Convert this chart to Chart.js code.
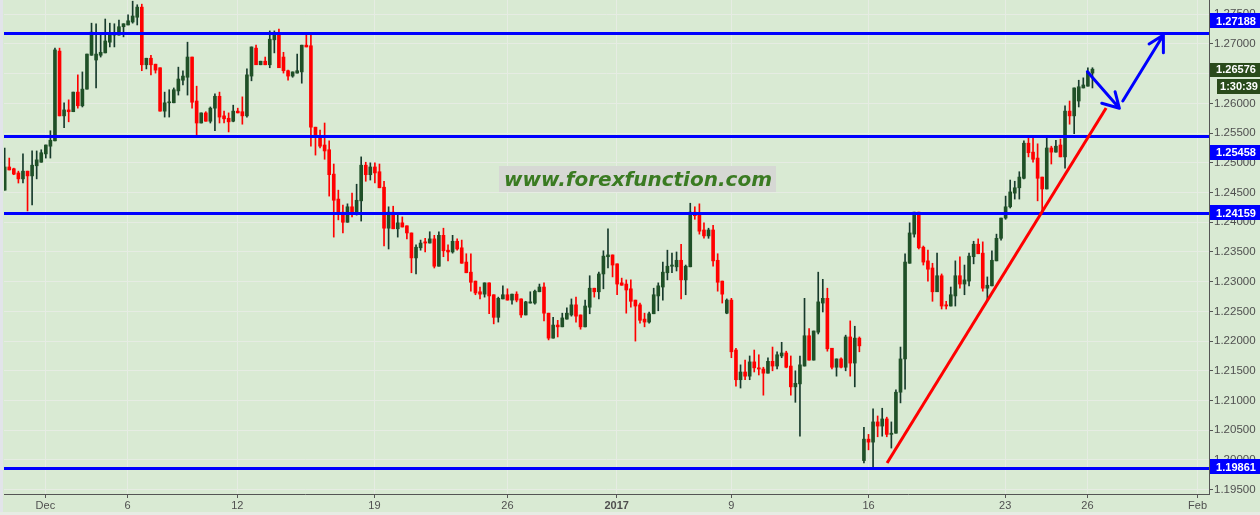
<!DOCTYPE html>
<html><head><meta charset="utf-8">
<script src="https://cdn.jsdelivr.net/npm/chart.js@4.4.1/dist/chart.umd.min.js"></script>
<style>html,body{margin:0;padding:0;background:#d9ead3;overflow:hidden}canvas{display:block}</style>
</head><body><canvas id="c" width="1260" height="515"></canvas>
<script>
// ---- 4H GBPUSD-style candles (price values) ----
const open = [1.2454,1.2493,1.2490,1.2483,1.2473,1.2486,1.2478,1.2495,1.2501,1.2515,
1.2528,1.2537,1.2688,1.2579,1.2589,1.2586,1.2619,1.2596,1.2624,1.2681,
1.2673,1.2681,1.2685,1.2703,1.2715,1.2715,1.2729,1.2732,1.2737,1.2745,
1.2762,1.2665,1.2676,1.2666,1.2660,1.2587,1.2601,1.2601,1.2621,1.2639,
1.2644,1.2678,1.2604,1.2567,1.2584,1.2570,1.2592,1.2612,1.2579,1.2575,
1.2570,1.2587,1.2586,1.2579,1.2646,1.2693,1.2665,1.2671,1.2665,1.2707,
1.2719,1.2678,1.2655,1.2646,1.2651,1.2653,1.2698,1.2697,1.2560,1.2545,
1.2530,1.2522,1.2481,1.2439,1.2417,1.2400,1.2426,1.2416,1.2436,1.2496,
1.2480,1.2493,1.2485,1.2459,1.2390,1.2417,1.2389,1.2399,1.2394,1.2382,
1.2340,1.2357,1.2367,1.2365,1.2372,1.2326,1.2378,1.2353,1.2350,1.2368,
1.2357,1.2333,1.2316,1.2301,1.2283,1.2279,1.2298,1.2278,1.2240,1.2271,
1.2278,1.2269,1.2279,1.2271,1.2244,1.2264,1.2264,1.2283,1.2291,1.2247,
1.2205,1.2227,1.2224,1.2237,1.2244,1.2261,1.2244,1.2224,1.2257,1.2289,
1.2283,1.2313,1.2342,1.2345,1.2330,1.2298,1.2296,1.2288,1.2269,1.2261,
1.2237,1.2232,1.2246,1.2276,1.2291,1.2315,1.2326,1.2325,1.2336,1.2303,
1.2325,1.2417,1.2412,1.2387,1.2377,1.2387,1.2336,1.2301,1.2247,1.2269,
1.2185,1.2135,1.2148,1.2141,1.2165,1.2155,1.2153,1.2146,1.2166,1.2158,
1.2175,1.2180,1.2158,1.2123,1.2128,1.2158,1.2209,1.2168,1.2215,1.2264,
1.2272,1.2188,1.2156,1.2170,1.2156,1.2207,1.2163,1.2205,1.1999,1.2035,
1.2030,1.2064,1.2057,1.2069,1.2043,1.2045,1.2114,1.2170,1.2331,1.2380,
1.2417,1.2358,1.2335,1.2323,1.2283,1.2310,1.2261,1.2259,1.2276,1.2310,
1.2296,1.2301,1.2342,1.2363,1.2348,1.2289,1.2293,1.2335,1.2373,1.2407,
1.2426,1.2449,1.2458,1.2474,1.2533,1.2518,1.2508,1.2476,1.2456,1.2525,
1.2518,1.2530,1.2510,1.2587,1.2579,1.2604,1.2626,1.2629,1.2651];

const high = [1.2525,1.2508,1.2491,1.2486,1.2515,1.2486,1.2520,1.2520,1.2522,1.2530,
1.2554,1.2693,1.2693,1.2601,1.2606,1.2619,1.2648,1.2653,1.2683,1.2735,
1.2734,1.2719,1.2742,1.2735,1.2734,1.2740,1.2734,1.2749,1.2772,1.2766,
1.2767,1.2676,1.2681,1.2666,1.2660,1.2619,1.2623,1.2626,1.2661,1.2655,
1.2703,1.2678,1.2629,1.2584,1.2586,1.2594,1.2616,1.2619,1.2587,1.2584,
1.2597,1.2592,1.2611,1.2658,1.2695,1.2698,1.2671,1.2678,1.2722,1.2722,
1.2725,1.2686,1.2656,1.2653,1.2683,1.2698,1.2719,1.2719,1.2560,1.2555,
1.2567,1.2537,1.2498,1.2454,1.2429,1.2431,1.2449,1.2464,1.2510,1.2501,
1.2500,1.2500,1.2498,1.2469,1.2426,1.2427,1.2416,1.2409,1.2394,1.2382,
1.2362,1.2370,1.2373,1.2384,1.2378,1.2384,1.2390,1.2362,1.2378,1.2372,
1.2370,1.2347,1.2347,1.2301,1.2291,1.2298,1.2298,1.2278,1.2274,1.2293,
1.2288,1.2279,1.2283,1.2271,1.2267,1.2283,1.2286,1.2296,1.2298,1.2247,
1.2240,1.2235,1.2247,1.2256,1.2271,1.2274,1.2244,1.2269,1.2310,1.2289,
1.2316,1.2352,1.2389,1.2345,1.2330,1.2306,1.2303,1.2303,1.2269,1.2264,
1.2247,1.2249,1.2289,1.2298,1.2333,1.2353,1.2348,1.2350,1.2363,1.2328,
1.2432,1.2426,1.2431,1.2399,1.2390,1.2395,1.2347,1.2301,1.2271,1.2272,
1.2188,1.2160,1.2168,1.2175,1.2185,1.2177,1.2156,1.2172,1.2190,1.2182,
1.2198,1.2183,1.2175,1.2150,1.2175,1.2272,1.2221,1.2217,1.2316,1.2304,
1.2289,1.2188,1.2170,1.2172,1.2210,1.2234,1.2225,1.2207,1.2055,1.2043,
1.2086,1.2074,1.2087,1.2072,1.2064,1.2118,1.2190,1.2347,1.2399,1.2417,
1.2417,1.2360,1.2353,1.2331,1.2348,1.2313,1.2267,1.2291,1.2335,1.2342,
1.2328,1.2348,1.2368,1.2372,1.2367,1.2308,1.2352,1.2380,1.2407,1.2444,
1.2471,1.2469,1.2485,1.2537,1.2545,1.2542,1.2532,1.2476,1.2542,1.2528,
1.2538,1.2540,1.2596,1.2604,1.2626,1.2639,1.2643,1.2660,1.2660];

const low = [1.2454,1.2488,1.2480,1.2466,1.2466,1.2419,1.2429,1.2473,1.2501,1.2508,
1.2508,1.2537,1.2579,1.2559,1.2569,1.2586,1.2592,1.2594,1.2624,1.2681,
1.2626,1.2678,1.2685,1.2695,1.2695,1.2715,1.2712,1.2732,1.2735,1.2732,
1.2655,1.2658,1.2648,1.2651,1.2587,1.2577,1.2577,1.2601,1.2614,1.2631,
1.2614,1.2592,1.2547,1.2567,1.2570,1.2567,1.2554,1.2567,1.2567,1.2552,
1.2569,1.2584,1.2565,1.2577,1.2638,1.2665,1.2665,1.2665,1.2660,1.2685,
1.2660,1.2651,1.2639,1.2644,1.2651,1.2634,1.2695,1.2528,1.2513,1.2525,
1.2506,1.2444,1.2375,1.2404,1.2382,1.2400,1.2409,1.2412,1.2402,1.2469,
1.2471,1.2466,1.2458,1.2360,1.2355,1.2389,1.2375,1.2392,1.2372,1.2315,
1.2313,1.2353,1.2350,1.2365,1.2323,1.2326,1.2342,1.2335,1.2348,1.2353,
1.2331,1.2315,1.2284,1.2278,1.2271,1.2274,1.2246,1.2229,1.2232,1.2271,
1.2269,1.2262,1.2266,1.2240,1.2244,1.2264,1.2262,1.2283,1.2234,1.2202,
1.2205,1.2207,1.2224,1.2237,1.2242,1.2232,1.2220,1.2224,1.2246,1.2274,
1.2271,1.2288,1.2323,1.2308,1.2278,1.2294,1.2247,1.2257,1.2200,1.2230,
1.2224,1.2230,1.2246,1.2251,1.2269,1.2303,1.2315,1.2318,1.2271,1.2278,
1.2325,1.2405,1.2380,1.2373,1.2373,1.2326,1.2284,1.2264,1.2246,1.2172,
1.2124,1.2121,1.2135,1.2135,1.2148,1.2143,1.2109,1.2146,1.2150,1.2153,
1.2172,1.2155,1.2109,1.2097,1.2040,1.2158,1.2168,1.2168,1.2212,1.2249,
1.2183,1.2153,1.2141,1.2155,1.2150,1.2141,1.2123,1.2182,1.1995,1.2017,
1.1988,1.2039,1.2040,1.2039,1.2020,1.2045,1.2096,1.2119,1.2331,1.2375,
1.2355,1.2328,1.2301,1.2267,1.2283,1.2254,1.2254,1.2259,1.2259,1.2289,
1.2278,1.2293,1.2330,1.2347,1.2284,1.2269,1.2293,1.2335,1.2370,1.2405,
1.2424,1.2439,1.2439,1.2473,1.2510,1.2501,1.2436,1.2419,1.2456,1.2498,
1.2518,1.2510,1.2491,1.2565,1.2549,1.2594,1.2626,1.2629,1.2626];

const close = [1.2493,1.2488,1.2481,1.2473,1.2486,1.2478,1.2496,1.2505,1.2517,1.2530,
1.2538,1.2690,1.2579,1.2589,1.2586,1.2619,1.2596,1.2624,1.2683,1.2720,
1.2683,1.2686,1.2705,1.2715,1.2719,1.2729,1.2734,1.2739,1.2747,1.2762,
1.2665,1.2676,1.2665,1.2656,1.2587,1.2601,1.2602,1.2623,1.2641,1.2646,
1.2678,1.2602,1.2567,1.2584,1.2570,1.2592,1.2612,1.2577,1.2574,1.2569,
1.2587,1.2584,1.2579,1.2648,1.2695,1.2665,1.2671,1.2665,1.2708,1.2719,
1.2660,1.2655,1.2646,1.2653,1.2655,1.2698,1.2695,1.2560,1.2543,1.2528,
1.2520,1.2480,1.2437,1.2416,1.2400,1.2426,1.2416,1.2437,1.2496,1.2480,
1.2493,1.2483,1.2458,1.2390,1.2417,1.2389,1.2399,1.2392,1.2382,1.2340,
1.2358,1.2365,1.2365,1.2372,1.2326,1.2378,1.2352,1.2350,1.2368,1.2355,
1.2331,1.2315,1.2299,1.2281,1.2279,1.2298,1.2276,1.2240,1.2272,1.2278,
1.2269,1.2279,1.2269,1.2244,1.2266,1.2266,1.2284,1.2291,1.2247,1.2205,
1.2227,1.2224,1.2239,1.2247,1.2261,1.2242,1.2224,1.2259,1.2289,1.2283,
1.2313,1.2343,1.2345,1.2328,1.2296,1.2294,1.2286,1.2267,1.2259,1.2235,
1.2232,1.2246,1.2278,1.2293,1.2316,1.2326,1.2328,1.2336,1.2303,1.2326,
1.2417,1.2411,1.2385,1.2377,1.2387,1.2335,1.2299,1.2279,1.2269,1.2182,
1.2135,1.2148,1.2141,1.2165,1.2155,1.2153,1.2146,1.2166,1.2158,1.2177,
1.2180,1.2156,1.2123,1.2129,1.2160,1.2209,1.2168,1.2217,1.2266,1.2272,
1.2187,1.2156,1.2170,1.2156,1.2207,1.2163,1.2205,1.2192,1.2035,1.2030,
1.2064,1.2057,1.2069,1.2043,1.2045,1.2114,1.2170,1.2333,1.2382,1.2417,
1.2357,1.2333,1.2321,1.2283,1.2310,1.2259,1.2259,1.2278,1.2310,1.2296,
1.2303,1.2343,1.2363,1.2347,1.2289,1.2294,1.2336,1.2373,1.2407,1.2426,
1.2451,1.2458,1.2476,1.2533,1.2517,1.2506,1.2474,1.2456,1.2525,1.2518,
1.2528,1.2510,1.2587,1.2579,1.2626,1.2628,1.2631,1.2653,1.26576];

// axis ticks
const priceTicks = [1.195,1.200,1.205,1.210,1.215,1.220,1.225,1.230,1.235,1.240,1.245,1.250,1.255,1.260,1.265,1.270,1.275];
const dateTickIndex = [8.9, 26.9, 50.9, 80.9, 110.0, 133.9, 159.0, 189.0, 218.9, 236.9, 261.0];
const dateTickLabels = ['Dec','6','12','19','26','2017','9','16','23','26','Feb'];

// horizontal support/resistance levels and tags
const levels = [1.27188, 1.25458, 1.24159, 1.19861];
const lastPrice = 1.26576;
const countdown = '1:30:39';

// drawn annotations (candle index, price)
const trendLine = [{x:193.06, y:1.19949},{x:240.99, y:1.25923}];
const arrowDown = [{x:236.9, y:1.26534},{x:243.89, y:1.25918},{x:240.04, y:1.26002},{x:243.89, y:1.25918},{x:242.95, y:1.26197}];
const arrowUp = [{x:244.64, y:1.26041},{x:253.52, y:1.27151},{x:250.39, y:1.27000},{x:253.52, y:1.27151},{x:253.52, y:1.26854}];

// ---- presentation ----
const GREEN_BODY = '#1f5027', GREEN_WICK = '#173a2c', RED = '#ff0000';
const isUp = close.map((c,i)=> c >= open[i]);
const wickData = open.map((o,i)=>({x:i, y:[low[i], high[i]]}));
const bodyData = open.map((o,i)=>({x:i, y:[Math.min(o,close[i]), Math.max(o,close[i])]}));

const FONT = '"Liberation Sans", Arial, sans-serif';

const bgPlugin = {
  id:'bg',
  beforeDraw(chart){
    const c = chart.ctx; c.save();
    c.fillStyle = '#d9ead3'; c.fillRect(0,0,chart.width,chart.height);
    c.fillStyle = '#e2e4ea'; c.fillRect(0,0,3,chart.height);
    c.fillStyle = '#e6ece4'; c.fillRect(0,chart.height-3,chart.width,3);
    c.restore();
  }
};
const levelPlugin = {
  id:'levels',
  afterDatasetDraw(chart, args){
    if (args.index !== 1) return;
    const {ctx, chartArea:a, scales:{y}} = chart;
    ctx.save();
    ctx.beginPath(); ctx.rect(a.left, a.top, a.right-a.left, a.bottom-a.top); ctx.clip();
    ctx.strokeStyle = '#0000ff'; ctx.lineWidth = 3;
    levels.forEach(v=>{
      const py = Math.round(y.getPixelForValue(v)) + 0.5;
      ctx.beginPath(); ctx.moveTo(a.left, py); ctx.lineTo(a.right, py); ctx.stroke();
    });
    ctx.restore();
  }
};
const tagPlugin = {
  id:'tags',
  afterDraw(chart){
    const {ctx, chartArea:a, scales:{y}} = chart;
    ctx.save();
    // watermark
    ctx.fillStyle = '#d6d8d4';
    ctx.fillRect(499, 166, 277, 26);
    ctx.fillStyle = '#3a7b22';
    ctx.font = 'italic bold 20px "DejaVu Sans", Verdana, sans-serif';
    ctx.textAlign = 'center'; ctx.textBaseline = 'alphabetic';
    ctx.fillText('www.forexfunction.com', 638, 186);
    // level tags
    const shifts = [-12, 16.5, 0, -1.5];
    ctx.font = 'bold 11px ' + FONT;
    ctx.textBaseline = 'middle';
    levels.forEach((v,i)=>{
      const cy = y.getPixelForValue(v) + shifts[i];
      ctx.fillStyle = '#0000ff';
      ctx.fillRect(a.right + 1, Math.round(cy - 7.5), 50, 15);
      ctx.fillStyle = '#ffffff';
      ctx.fillText(v.toFixed(5), a.right + 27, Math.round(cy) + 0.5);
    });
    // last price + countdown
    const ly = y.getPixelForValue(lastPrice);
    ctx.fillStyle = '#2a4b1b';
    ctx.fillRect(a.right + 1, Math.round(ly - 6.5), 50, 14);
    ctx.fillStyle = '#ffffff';
    ctx.fillText(lastPrice.toFixed(5), a.right + 27, Math.round(ly) + 0.5);
    ctx.fillStyle = '#2a4b1b';
    ctx.fillRect(a.right + 8, Math.round(ly + 9.5), 43, 15);
    ctx.fillStyle = '#ffffff';
    ctx.fillText(countdown, a.right + 30, Math.round(ly + 17) + 0.5);
    ctx.restore();
  }
};

new Chart(document.getElementById('c'), {
  type: 'bar',
  data: {
    datasets: [
      { label:'wick', data: wickData, backgroundColor: isUp.map(u=>u?GREEN_WICK:RED),
        barThickness: 1, grouped:false, order: 4, borderWidth: 0 },
      { label:'body', data: bodyData, backgroundColor: isUp.map(u=>u?GREEN_BODY:RED),
        barThickness: 3, grouped:false, order: 3, borderWidth: 0, minBarLength: 1 },
      { type:'line', label:'trend', data: trendLine, borderColor: RED, borderWidth: 3,
        pointRadius: 0, fill:false, tension: 0, order: 1 },
      { type:'line', label:'down', data: arrowDown, borderColor: '#0000ff', borderWidth: 3,
        pointRadius: 0, fill:false, tension: 0, order: 0, borderJoinStyle:'round', borderCapStyle:'round' },
      { type:'line', label:'up', data: arrowUp, borderColor: '#0000ff', borderWidth: 3,
        pointRadius: 0, fill:false, tension: 0, order: 0, borderJoinStyle:'round', borderCapStyle:'round' }
    ]
  },
  options: {
    responsive: false, animation: false, events: [],
    layout: { padding: { left: 4, top: 0, right: 0, bottom: 0 } },
    plugins: { legend: { display:false }, tooltip: { enabled:false } },
    scales: {
      x: {
        type: 'linear', min: -0.15, max: 263.5, offset: false,
        afterBuildTicks: s => { s.ticks = dateTickIndex.map(v=>({value:v})); },
        afterFit: s => { s.height = 21; s.paddingLeft = 0; s.paddingRight = 0; },
        grid: { offset:false, color:'#e6ece3', lineWidth:1, tickLength:4, tickColor:'#555555', drawTicks:true },
        border: { display:true, color:'#555555', width:1 },
        ticks: {
          autoSkip:false, maxRotation:0, minRotation:0, padding:1, color:'#4f4f4f',
          font: ctx => ({ family: FONT, size: 11, weight: (ctx.tick && ctx.tick.label === '2017') ? 'bold' : 'normal' }),
          callback: (v, i) => dateTickLabels[i]
        }
      },
      y: {
        type: 'linear', position: 'right', min: 1.19427, max: 1.2774, beginAtZero: false,
        afterBuildTicks: s => { s.ticks = priceTicks.map(v=>({value:v})); },
        afterFit: s => { s.width = 51; s.paddingTop = 0; s.paddingBottom = 0; },
        grid: { color:'#e6ece3', lineWidth:1, tickLength:4, tickColor:'#555555' },
        border: { display:true, color:'#555555', width:1 },
        ticks: { padding:1, color:'#4f4f4f', font: { family: FONT, size: 11.5 }, callback: v => Number(v).toFixed(5) }
      }
    }
  },
  plugins: [bgPlugin, levelPlugin, tagPlugin]
});
</script>
</body></html>
